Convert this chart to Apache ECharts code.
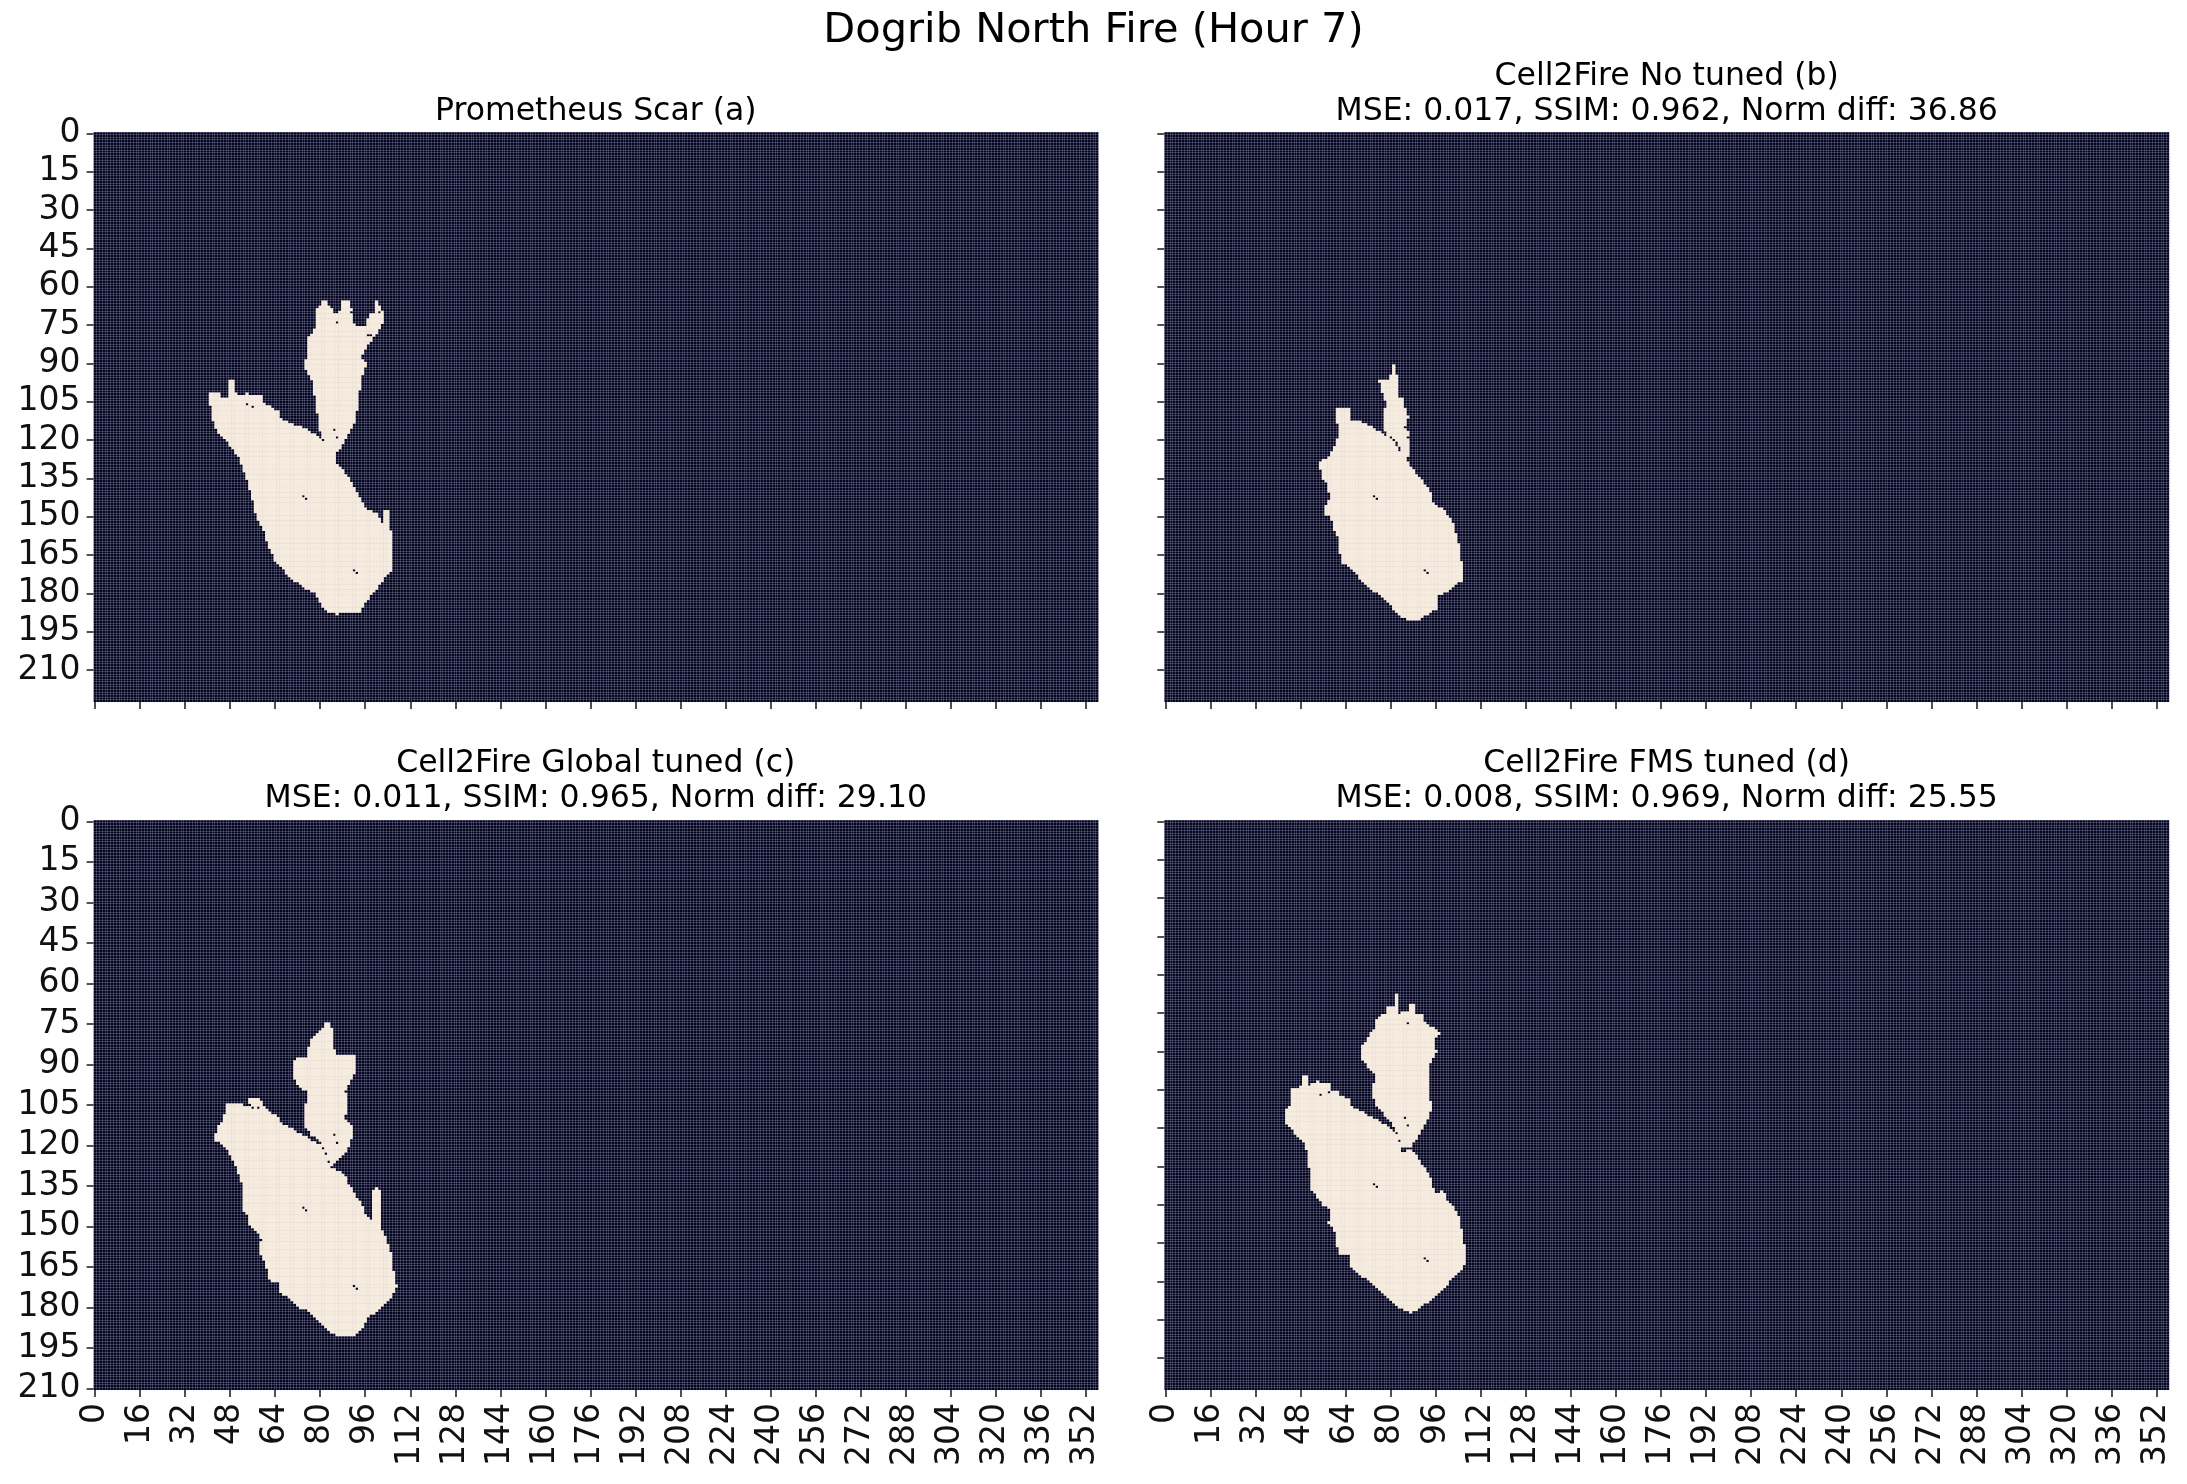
<!DOCTYPE html>
<html><head><meta charset="utf-8">
<script src="https://cdn.jsdelivr.net/npm/echarts@6/dist/echarts.min.js"></script>
<style>html,body{margin:0;padding:0;background:#fff}#c{width:2187px;height:1484px}</style>
</head><body><div id="c"></div>
<script>
// ---------------- data ----------------
const N_COLS = 357;
const ROWS_A = 223, ROWS_B = 223, ROWS_C = 211, ROWS_D = 223;
const X_LABEL_STEP = 16;
const Y_LABEL_STEP = 15;

const SUPTITLE = 'Dogrib North Fire (Hour 7)';
const PANEL_TITLES = [
  'Prometheus Scar (a)',
  'Cell2Fire No tuned (b)\nMSE: 0.017, SSIM: 0.962, Norm diff: 36.86',
  'Cell2Fire Global tuned (c)\nMSE: 0.011, SSIM: 0.965, Norm diff: 29.10',
  'Cell2Fire FMS tuned (d)\nMSE: 0.008, SSIM: 0.969, Norm diff: 25.55'
];

// Burned-area outlines, in cell units [column, row]
const FIRE_A_MAIN = [[40.8,101.6],[44.9,101.6],[44.9,104.2],[48.2,104.2],[48.2,97.0],[50.2,97.0],[50.2,102.2],[53.8,103.5],[53.8,102.2],[59.7,103.5],[59.7,106.2],[61.5,106.8],[65.6,109.4],[66.2,112.0],[69.8,114.0],[74.5,115.9],[78.1,117.9],[80.4,119.8],[82.2,121.8],[84.0,124.4],[85.2,127.7],[85.8,129.0],[88.7,132.2],[91.1,136.2],[92.3,138.8],[93.5,141.4],[95.2,144.6],[97.0,147.9],[100.6,149.2],[101.7,151.1],[103.5,154.4],[103.5,147.9],[104.7,147.9],[104.7,154.4],[105.3,155.1],[105.9,157.0],[105.9,171.4],[104.7,172.7],[102.9,175.3],[100.6,178.5],[98.2,181.8],[95.8,185.1],[94.6,187.7],[88.7,188.3],[86.3,188.7],[84.0,188.1],[81.6,185.7],[78.7,180.5],[74.5,177.9],[71.0,175.3],[68.0,172.0],[65.0,168.8],[62.7,163.5],[61.5,159.6],[60.3,155.7],[58.5,151.8],[57.3,147.9],[56.2,142.7],[55.0,137.5],[53.2,132.2],[52.0,128.3],[50.2,125.1],[47.9,121.8],[45.5,119.2],[43.7,116.6],[42.5,112.7],[41.9,106.8],[40.8,106.2]];
const FIRE_A_LOBE = [[81.0,66.4],[82.6,66.4],[82.8,67.0],[84.0,68.3],[85.2,70.9],[87.5,70.3],[88.1,67.7],[88.1,65.7],[91.1,65.7],[91.7,70.9],[92.3,74.2],[93.5,76.2],[97.0,75.5],[97.6,72.2],[98.8,70.9],[100.0,70.9],[100.0,65.7],[101.2,65.7],[101.5,68.3],[102.7,70.9],[102.7,74.9],[101.2,77.5],[99.4,81.4],[97.6,83.3],[95.8,85.9],[95.2,88.6],[97.0,91.2],[95.8,93.1],[95.2,97.0],[94.0,103.5],[93.5,108.8],[92.9,112.7],[91.7,115.9],[89.9,119.2],[88.1,122.5],[86.3,125.7],[85.2,128.3],[84.0,127.0],[82.2,121.8],[81.0,119.2],[80.4,116.6],[79.8,112.7],[79.2,107.5],[78.1,101.0],[77.5,97.0],[76.3,94.4],[75.1,92.5],[75.4,90.5],[76.3,80.7],[77.5,78.8],[78.7,76.2],[79.2,69.6],[81.0,67.0]];
const FIRE_A_HOLES = [[54,106],[56,107],[74,142],[75,143],[92,171],[93,172],[85,116],[86,119],[86,70],[86,74],[91,70],[101,70],[97,79],[98,79],[99,80]];

const FIRE_B_MAIN = [[61.0,108.5],[66.0,108.5],[66.0,112.7],[69.5,113.3],[71.9,114.6],[73.7,115.6],[76.6,117.3],[79.6,119.5],[81.4,120.5],[82.5,123.1],[83.7,125.1],[84.9,127.7],[86.7,129.6],[89.1,132.9],[90.8,135.5],[93.2,138.8],[94.4,140.7],[95.6,145.3],[99.1,147.9],[100.3,149.2],[102.7,153.1],[103.9,158.3],[104.8,162.2],[105.6,168.8],[106.0,175.3],[103.9,176.6],[100.3,179.8],[96.8,181.8],[96.8,186.4],[93.2,189.0],[90.8,190.7],[86.1,190.7],[83.7,189.6],[81.9,187.0],[79.6,184.4],[76.6,181.1],[73.7,179.2],[71.9,177.2],[69.5,174.6],[67.2,172.0],[66.0,170.1],[63.0,168.8],[62.2,162.2],[61.8,158.3],[61.0,157.0],[60.1,154.4],[58.9,150.5],[56.9,149.8],[56.9,147.2],[57.7,145.3],[58.3,144.0],[59.5,142.7],[58.3,140.1],[57.7,137.5],[56.5,135.5],[55.9,132.2],[54.7,131.6],[54.7,129.0],[58.3,127.7],[60.1,124.4],[61.2,121.8],[61.8,117.9],[62.4,114.6],[61.0,113.3]];
const FIRE_B_LOBE = [[81.1,91.2],[82.0,91.2],[82.0,95.1],[82.8,95.1],[83.1,104.2],[84.9,104.2],[85.9,110.7],[86.7,111.4],[85.9,113.3],[86.3,115.3],[86.7,119.2],[87.3,123.1],[86.7,125.7],[86.1,128.3],[84.3,128.3],[84.3,127.0],[83.5,123.1],[82.0,120.2],[79.2,118.5],[77.8,115.9],[77.8,108.8],[79.2,106.8],[78.4,104.9],[77.8,103.6],[77.2,100.9],[77.2,98.3],[76.0,98.3],[76.0,97.3],[80.2,97.0],[80.2,95.1],[81.1,95.1]];
const FIRE_B_HOLES = [[77,116],[74,142],[75,143],[92,171],[93,172],[85,115],[86,119]];

const FIRE_C_MAIN = [[47.3,104.9],[53.2,104.9],[53.8,106.1],[55.0,106.1],[55.0,102.4],[59.7,103.7],[60.3,106.1],[62.1,106.8],[62.7,108.6],[65.6,109.8],[66.2,111.7],[68.0,112.9],[71.0,114.8],[73.3,116.0],[75.7,117.2],[78.1,119.1],[80.4,120.3],[82.2,123.4],[83.4,126.5],[84.6,129.0],[86.4,129.6],[88.7,130.8],[90.5,134.5],[92.3,137.6],[94.6,141.3],[97.0,146.9],[99.1,148.3],[99.1,137.6],[100.3,135.8],[101.7,137.6],[101.7,147.5],[102.3,151.8],[103.5,154.3],[104.7,158.0],[105.9,161.7],[106.2,165.4],[107.1,170.3],[107.7,172.2],[105.9,176.5],[104.1,178.9],[101.7,180.8],[99.4,182.6],[97.0,183.9],[96.4,187.0],[94.6,189.4],[92.3,191.3],[86.4,191.3],[85.2,190.1],[82.8,188.2],[80.4,185.7],[78.1,183.3],[75.7,181.4],[73.3,180.8],[71.0,178.9],[68.6,176.5],[66.2,174.6],[65.6,171.5],[62.1,170.3],[62.1,167.8],[60.9,164.1],[59.7,161.7],[58.5,157.3],[59.7,155.5],[57.9,152.4],[55.6,150.6],[55.0,146.9],[52.6,144.4],[53.2,139.5],[52.6,134.5],[51.4,130.8],[50.2,127.1],[49.0,124.6],[47.3,122.2],[44.9,119.7],[43.1,118.5],[43.1,116.6],[44.3,113.5],[46.1,111.1],[46.7,107.4]];
const FIRE_C_LOBE = [[82.2,75.3],[83.7,75.3],[85.2,78.4],[85.2,82.7],[85.8,86.4],[88.7,87.0],[92.3,86.4],[93.2,88.9],[92.3,95.0],[90.5,98.1],[89.3,100.0],[89.9,102.4],[89.9,108.6],[89.0,110.5],[91.7,113.5],[92.5,116.0],[91.7,117.2],[90.9,119.7],[89.9,122.2],[87.5,124.6],[85.8,127.1],[84.6,128.3],[83.4,125.3],[82.2,122.2],[81.0,119.7],[79.8,117.9],[77.5,116.6],[76.3,114.8],[75.1,112.9],[74.7,111.1],[75.5,105.5],[76.3,103.7],[75.7,100.6],[73.3,98.7],[72.1,96.9],[71.0,94.4],[71.0,88.9],[72.1,88.2],[75.7,87.6],[76.3,85.2],[76.9,82.1],[78.7,80.2],[80.4,78.4],[81.6,76.5]];
const FIRE_C_HOLES = [[55,105],[56,106],[58,106],[85,116],[86,119],[74,143],[75,144],[92,172],[93,173]];

const FIRE_D_MAIN = [[49.4,99.8],[50.6,99.8],[50.6,104.3],[54.1,102.4],[59.5,103.0],[59.5,105.6],[61.8,106.3],[62.4,108.2],[65.4,108.9],[66.0,112.2],[68.9,113.5],[71.3,114.8],[73.1,116.1],[75.4,117.4],[77.2,118.7],[79.6,120.0],[81.4,121.9],[82.6,123.2],[83.7,126.5],[84.3,129.8],[87.3,129.1],[89.1,130.4],[90.8,133.0],[92.0,135.6],[93.2,137.6],[94.4,139.5],[95.0,142.8],[96.2,145.4],[97.9,146.1],[98.5,145.4],[99.7,146.1],[100.3,148.7],[102.7,151.3],[103.9,153.9],[105.0,156.5],[105.6,160.4],[106.2,164.3],[106.8,168.2],[106.8,174.1],[105.0,176.1],[102.7,178.7],[100.9,181.3],[99.1,183.9],[95.6,187.1],[92.0,189.8],[89.7,191.7],[87.3,192.8],[84.9,191.7],[82.6,189.8],[80.2,187.8],[77.8,185.2],[75.4,182.6],[73.1,180.6],[70.7,178.7],[68.3,176.7],[66.0,174.8],[66.0,170.2],[61.8,169.5],[61.2,163.7],[60.1,159.8],[58.3,157.8],[59.5,155.2],[58.9,152.6],[56.5,150.6],[54.1,147.4],[52.4,144.8],[51.5,140.2],[52.4,136.9],[51.5,135.6],[51.2,130.4],[50.0,127.8],[49.4,125.2],[47.6,123.9],[45.8,121.9],[44.7,120.0],[42.9,118.7],[42.9,113.5],[44.7,111.5],[44.7,105.6],[45.8,105.0],[49.4,104.3]];
const FIRE_D_LOBE = [[82.0,67.6],[83.5,67.6],[83.5,75.6],[86.7,75.0],[87.0,71.7],[88.7,71.7],[89.1,75.6],[92.0,75.6],[92.6,79.6],[94.4,80.9],[96.8,82.2],[98.5,83.5],[96.2,85.4],[95.6,88.7],[96.8,90.6],[95.6,92.6],[94.4,95.2],[93.8,100.4],[94.2,104.3],[94.2,109.5],[95.6,112.8],[94.2,114.8],[93.2,117.4],[92.0,120.0],[90.8,122.6],[89.7,125.2],[87.3,127.8],[84.3,127.8],[82.6,121.9],[80.8,118.7],[79.0,116.1],[77.2,114.1],[75.4,111.5],[73.7,107.6],[74.0,104.3],[75.4,101.7],[74.9,99.8],[73.1,97.8],[71.9,95.2],[70.1,93.3],[70.5,88.0],[71.9,86.1],[73.1,84.1],[74.9,80.9],[75.4,77.6],[79.0,75.6],[79.6,73.0],[82.0,72.4]];
const FIRE_D_HOLES = [[55,107],[58,106],[86,79],[85,116],[86,119],[74,142],[75,143],[92,171],[93,172]];

// ---------------- build cells ----------------
function inside(poly, x, y) {
  let inn = false;
  for (let i = 0, j = poly.length - 1; i < poly.length; j = i++) {
    const xi = poly[i][0], yi = poly[i][1], xj = poly[j][0], yj = poly[j][1];
    if ((yi > y) !== (yj > y) && x < (xj - xi) * (y - yi) / (yj - yi) + xi) inn = !inn;
  }
  return inn;
}
function burnedCells(polys, holes, nRows) {
  const holeSet = new Set(holes.map(h => h[0] + ',' + h[1]));
  const out = [];
  for (let r = 0; r < nRows; r++) {
    for (let c = 0; c < N_COLS; c++) {
      if (holeSet.has(c + ',' + r)) continue;
      if (polys.some(p => inside(p, c + 0.5, r + 0.5))) out.push([c, r, 1]);
    }
  }
  return out;
}
const PANELS = [
  { rows: ROWS_A, polys: [FIRE_A_MAIN, FIRE_A_LOBE], holes: FIRE_A_HOLES },
  { rows: ROWS_B, polys: [FIRE_B_MAIN, FIRE_B_LOBE], holes: FIRE_B_HOLES },
  { rows: ROWS_C, polys: [FIRE_C_MAIN, FIRE_C_LOBE], holes: FIRE_C_HOLES },
  { rows: ROWS_D, polys: [FIRE_D_MAIN, FIRE_D_LOBE], holes: FIRE_D_HOLES }
];

const range = n => Array.from({ length: n }, (_, i) => String(i));
const FONT = 'DejaVu Sans';
const TICK_FS = 33;
const GRID_POS = [
  { left: 93.6, top: 132 }, { left: 1164.3, top: 132 },
  { left: 93.6, top: 820 }, { left: 1164.3, top: 820 }
];
const GW = 1004.9, GH = 570;
const LINE = 'rgba(215,215,255,0.21)';

const grids = [], xAxes = [], yAxes = [], series = [];
PANELS.forEach((p, i) => {
  grids.push({ left: GRID_POS[i].left, top: GRID_POS[i].top, width: GW, height: GH,
    show: true, backgroundColor: '#05061e', borderWidth: 0 });
  xAxes.push({
    type: 'category', gridIndex: i, data: range(N_COLS), position: 'bottom',
    axisLine: { show: false },
    axisTick: { show: true, interval: X_LABEL_STEP - 1, alignWithLabel: true, length: 7,
      lineStyle: { color: '#262626', width: 1.6 } },
    axisLabel: { show: i >= 2, interval: X_LABEL_STEP - 1, rotate: 90, margin: 13,
      fontFamily: FONT, fontSize: TICK_FS, color: '#111' },
    splitLine: { show: true, interval: 0, lineStyle: { color: LINE, width: 1 } }
  });
  yAxes.push({
    type: 'category', gridIndex: i, data: range(p.rows), inverse: true,
    axisLine: { show: false },
    axisTick: { show: true, interval: Y_LABEL_STEP - 1, alignWithLabel: true, length: 7,
      lineStyle: { color: '#262626', width: 1.6 } },
    axisLabel: { show: i === 0 || i === 2, interval: Y_LABEL_STEP - 1, margin: 13,
      fontFamily: FONT, fontSize: TICK_FS, color: '#111' },
    splitLine: { show: true, interval: 0, lineStyle: { color: LINE, width: 1 } }
  });
  series.push({
    type: 'heatmap', xAxisIndex: i, yAxisIndex: i,
    data: burnedCells(p.polys, p.holes, p.rows),
    progressive: 0, animation: false,
    itemStyle: { borderWidth: 0 }, emphasis: { disabled: true }
  });
});

const TSTYLE = { fontFamily: FONT, fontSize: 31.5, fontWeight: 'normal', color: '#000', lineHeight: 35 };
const titles = [
  { text: SUPTITLE, left: 1093.5, top: 7, textAlign: 'center',
    textStyle: { fontFamily: FONT, fontSize: 41.5, fontWeight: 'normal', color: '#000', lineHeight: 48 } },
  { text: PANEL_TITLES[0], left: 595.8, top: 94, textAlign: 'center', textStyle: TSTYLE },
  { text: PANEL_TITLES[1], left: 1666.7, top: 59, textAlign: 'center', textStyle: TSTYLE },
  { text: PANEL_TITLES[2], left: 595.8, top: 746.5, textAlign: 'center', textStyle: TSTYLE },
  { text: PANEL_TITLES[3], left: 1666.7, top: 746.5, textAlign: 'center', textStyle: TSTYLE }
];
titles.forEach(t => { t.padding = 0; t.itemGap = 0; });

const chart = echarts.init(document.getElementById('c'), null, { renderer: 'canvas' });
chart.setOption({
  animation: false,
  backgroundColor: '#ffffff',
  title: titles,
  grid: grids, xAxis: xAxes, yAxis: yAxes,
  visualMap: { show: false, min: 0, max: 1, seriesIndex: [0, 1, 2, 3],
    inRange: { color: ['#05061e', '#f6ebdf'] } },
  series: series
});
</script></body></html>
